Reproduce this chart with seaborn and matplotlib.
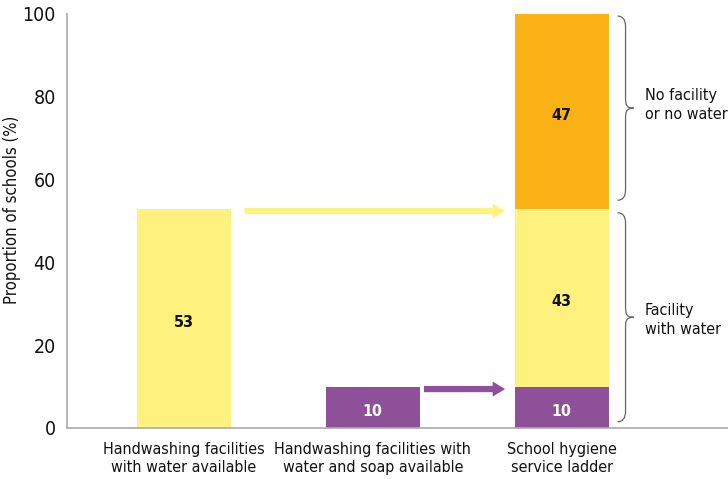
import matplotlib.pyplot as plt
import numpy as np
import pandas as pd
import seaborn as sns
from matplotlib.path import Path
from matplotlib.patches import PathPatch, FancyArrowPatch

sns.set_style("white")
plt.rcParams["font.family"] = ["DejaVu Sans"]
plt.rcParams["font.stretch"] = "condensed"

CATEGORIES = [
    "Handwashing facilities\nwith water available",
    "Handwashing facilities with\nwater and soap available",
    "School hygiene\nservice ladder",
]
SOAP_WATER = [0, 10, 10]      # purple
WATER_ONLY = [53, 0, 43]      # yellow
NO_FACILITY = [0, 0, 47]      # orange

PURPLE = "#8E5099"
YELLOW = "#FEF17E"
ORANGE = "#FBB217"
TEXT = "#111111"

df = pd.DataFrame({
    "cat": CATEGORIES,
    "soap": SOAP_WATER,
    "water": WATER_ONLY,
    "none": NO_FACILITY,
})
df["cum_soap"] = df["soap"]
df["cum_water"] = df["soap"] + df["water"]
df["cum_none"] = df["cum_water"] + df["none"]

fig = plt.figure(figsize=(7.28, 4.79), dpi=100)
ax = fig.add_axes([0.092, 0.1065, 0.908, 0.8643])

# stacked bars: draw cumulative totals from the top layer down
for col, color in [("cum_none", ORANGE), ("cum_water", YELLOW), ("cum_soap", PURPLE)]:
    sns.barplot(data=df, x="cat", y=col, color=color, width=0.5,
                saturation=1, linewidth=0, ax=ax, order=CATEGORIES)

# segment labels
for i, row in df.iterrows():
    base = 0
    for seg, color in [("soap", "white"), ("water", TEXT), ("none", TEXT)]:
        v = row[seg]
        if v > 0:
            ax.text(i, base + v / 2 - 1, f"{v}", ha="center", va="center",
                    fontsize=11.5, fontweight="bold", color=color)
        base += v

# arrows between bars
arrow_style = "simple,tail_width=0.6,head_width=1.45,head_length=1.2"
ax.add_patch(FancyArrowPatch((0.32, 52.4), (1.70, 52.4), arrowstyle=arrow_style,
                             mutation_scale=7.5, color="#FEF382", lw=0, shrinkA=0, shrinkB=0))
ax.add_patch(FancyArrowPatch((1.27, 9.4), (1.70, 9.4), arrowstyle=arrow_style,
                             mutation_scale=7.5, color=PURPLE, lw=0, shrinkA=0, shrinkB=0))


def brace(ax, x, y0, y1, w):
    """Right-facing curly brace in data coords."""
    ym = (y0 + y1) / 2
    c = w * 0.5
    codes = [Path.MOVETO, Path.CURVE3, Path.CURVE3, Path.LINETO,
             Path.CURVE4, Path.CURVE4, Path.CURVE4,
             Path.CURVE4, Path.CURVE4, Path.CURVE4,
             Path.LINETO, Path.CURVE3, Path.CURVE3]
    verts = [
        (x, y0), (x + c, y0), (x + c, y0 + 2.5),
        (x + c, ym - 3),
        (x + c, ym - 1), (x + c, ym), (x + w, ym),
        (x + c, ym), (x + c, ym + 1), (x + c, ym + 3),
        (x + c, y1 - 2.5), (x + c, y1), (x, y1),
    ]
    ax.add_patch(PathPatch(Path(verts, codes), fill=False, edgecolor="#666666", lw=0.9,
                           clip_on=False))


brace(ax, 2.295, 1.5, 52, 0.085)
brace(ax, 2.295, 55, 99.5, 0.085)
ax.text(2.44, 26, "Facility\nwith water", ha="left", va="center", fontsize=11.5,
        linespacing=1.35, color=TEXT)
ax.text(2.44, 78, "No facility\nor no water", ha="left", va="center", fontsize=11.5,
        linespacing=1.35, color=TEXT)

ax.set_xlim(-0.62, 2.88)
ax.set_ylim(0, 100)
ax.set_yticks([0, 20, 40, 60, 80, 100])
ax.tick_params(axis="y", length=0, labelsize=14, pad=8, labelcolor=TEXT)
ax.tick_params(axis="x", length=0, labelsize=11.5, pad=10, labelcolor=TEXT)
for lbl in ax.get_xticklabels():
    lbl.set_linespacing(1.3)
ax.set_xlabel("")
ax.set_ylabel("Proportion of schools (%)", fontsize=12, color=TEXT)
ax.yaxis.set_label_coords(-0.07, 0.527)
sns.despine(ax=ax)
for sp in ("left", "bottom"):
    ax.spines[sp].set_color("#AAAAAA")
    ax.spines[sp].set_linewidth(1.2)

fig.savefig("out.png", dpi=100)
